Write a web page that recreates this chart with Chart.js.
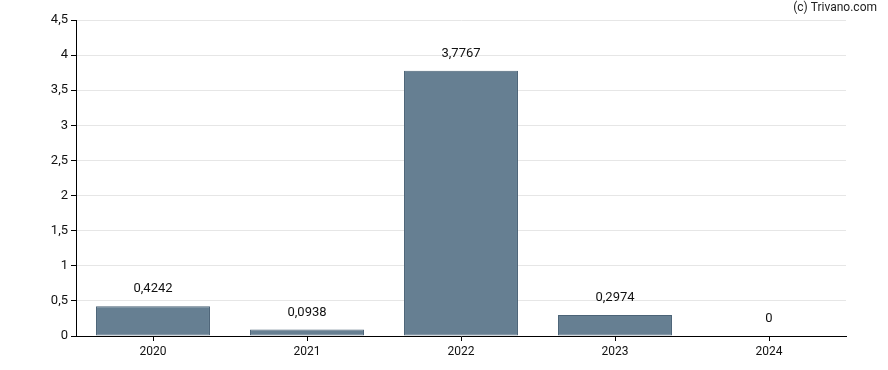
<!DOCTYPE html>
<html>
<head>
<meta charset="utf-8">
<script src="https://cdn.jsdelivr.net/npm/chart.js@4/dist/chart.umd.min.js"></script>
<style>
  html, body { margin: 0; padding: 0; background: #fff; }
  #wrap { width: 888px; height: 370px; position: relative; }
</style>
</head>
<body>
<div id="wrap"><canvas id="dividendChart"></canvas></div>
<script>
const years = ["2020", "2021", "2022", "2023", "2024"];
const dividends = [0.4242, 0.0938, 3.7767, 0.2974, 0];
const valueLabels = ["0,4242", "0,0938", "3,7767", "0,2974", "0"];

const fmt = v => String(v).replace(".", ",");

/* Value labels above bars + watermark */
const labelPlugin = {
    id: "labels",
    afterDatasetsDraw(chart) {
        const ctx = chart.ctx;
        const meta = chart.getDatasetMeta(0);
        ctx.save();
        ctx.font = "13px Roboto";
        ctx.fillStyle = "#111";
        ctx.textAlign = "center";
        ctx.textBaseline = "middle";
        meta.data.forEach((bar, i) => {
            ctx.fillText(valueLabels[i], bar.x, bar.y - 17);
        });
        ctx.font = "12px Roboto";
        ctx.textAlign = "right";
        ctx.fillStyle = "#222";
        ctx.fillText("(c) Trivano.com", 877, 8);
        ctx.restore();
    }
};

new Chart(document.getElementById("dividendChart"), {
    type: "bar",
    data: {
        labels: years,
        datasets: [{
            data: dividends,
            backgroundColor: "#667f92",
            borderColor: "#4b6377",
            borderWidth: 1,
            borderSkipped: false,
            categoryPercentage: 0.74,
            barPercentage: 1
        }]
    },
    options: {
        responsive: true,
        maintainAspectRatio: false,
        animation: false,
        layout: { padding: { top: 20, right: 42, left: 0, bottom: 0 } },
        plugins: {
            legend: { display: false },
            tooltip: { enabled: false }
        },
        scales: {
            x: {
                grid: { offset: false, drawOnChartArea: false, tickLength: 5, tickColor: "#000" },
                border: { color: "#000", width: 1 },
                ticks: { color: "#111", font: { family: "Roboto", size: 12 }, padding: 4 },
                afterFit: s => { s.height = 34; }
            },
            y: {
                min: 0,
                max: 4.5,
                grid: { color: "#e6e6e6", tickLength: 5, tickColor: "#000" },
                border: { color: "#000", width: 1 },
                ticks: {
                    stepSize: 0.5,
                    color: "#111",
                    font: { family: "Roboto", size: 13 },
                    padding: 3,
                    callback: v => fmt(v)
                },
                afterFit: s => { s.width = 76; }
            }
        }
    },
    plugins: [labelPlugin]
});
</script>
</body>
</html>
